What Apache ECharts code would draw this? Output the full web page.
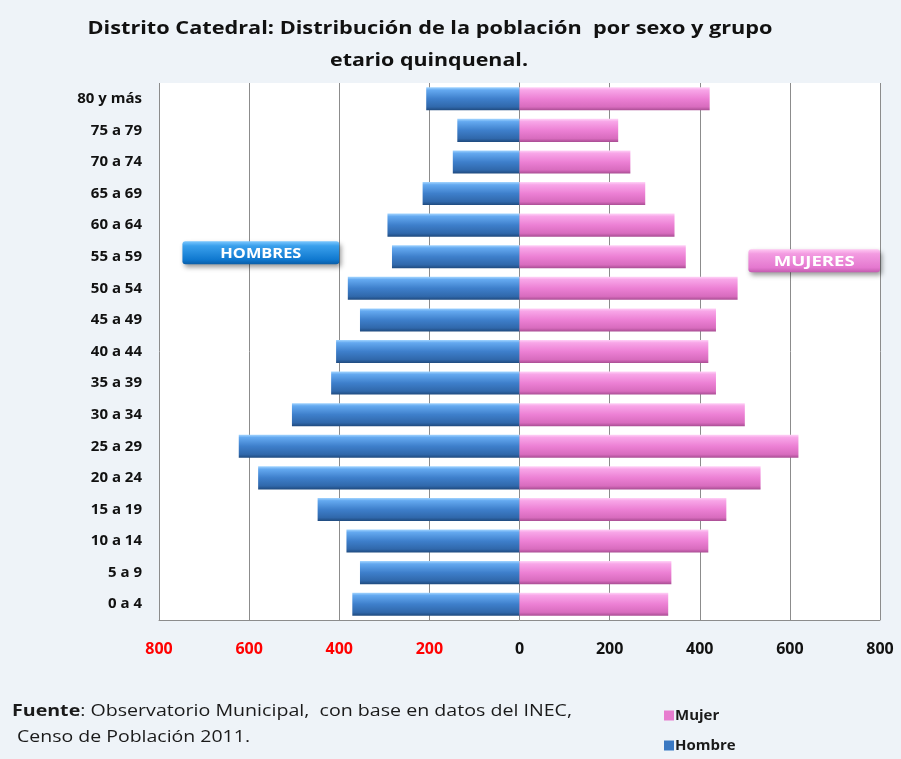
<!DOCTYPE html>
<html>
<head>
<meta charset="utf-8">
<script src="https://cdn.jsdelivr.net/npm/echarts@6/dist/echarts.min.js"></script>
<style>
html,body{margin:0;padding:0;background:#EEF3F8;}
#c{width:901px;height:759px;}
</style>
</head>
<body>
<div id="c"></div>
<script>
const categories = ['0 a 4','5 a 9','10 a 14','15 a 19','20 a 24','25 a 29','30 a 34','35 a 39','40 a 44','45 a 49','50 a 54','55 a 59','60 a 64','65 a 69','70 a 74','75 a 79','80 y más'];
const hombre = [371,354,384,448,580,623,505,418,407,354,381,283,293,215,148,138,207];
const mujer  = [330,337,419,459,535,619,500,436,419,436,484,369,344,279,246,219,422];
const xTicks = {min:-800, max:800, interval:200};
const titleLines = ['Distrito Catedral: Distribución de la población  por sexo y grupo', 'etario quinquenal.'];
const sourceBold = 'Fuente';
const sourceLine1 = ': Observatorio Municipal,  con base en datos del INEC,';
const sourceLine2 = ' Censo de Población 2011.';

const FONT = '"Open Sans", Lato, sans-serif';
const chart = echarts.init(document.getElementById('c'));

// measure text to stretch it horizontally like the reference
const mctx = document.createElement('canvas').getContext('2d');
function textW(txt, size, weight) {
  mctx.font = (weight||'normal') + ' ' + size + 'px ' + FONT;
  return mctx.measureText(txt).width;
}

const blueGrad = new echarts.graphic.LinearGradient(0,0,0,1,[
  {offset:0,color:'#a3d5ff'},{offset:0.12,color:'#64a9f0'},{offset:0.5,color:'#3e7fcb'},
  {offset:0.85,color:'#3068ab'},{offset:1,color:'#1f4a7e'}]);
const pinkGrad = new echarts.graphic.LinearGradient(0,0,0,1,[
  {offset:0,color:'#ffd3f7'},{offset:0.12,color:'#f8a6e8'},{offset:0.5,color:'#ec80d4'},
  {offset:0.85,color:'#d86cbe'},{offset:1,color:'#a94d93'}]);

chart.setOption({
  backgroundColor:'#EEF3F8',
  animation:false,
  textStyle:{fontFamily:FONT},
  legend:{
    data:[{name:'Mujer',itemStyle:{color:'#e77ccf'}},{name:'Hombre',itemStyle:{color:'#3a78c2'}}],
    orient:'vertical', left:659, top:703, itemWidth:10, itemHeight:10, itemGap:15,
    icon:'rect',
    textStyle:{fontFamily:FONT, fontWeight:'bold', fontSize:15, color:'#1a1a1a', padding:[0,0,0,-4]}
  },
  grid:{left:159, right:21, top:83, bottom:139, show:true, backgroundColor:'#ffffff', borderWidth:0},
  xAxis:{
    type:'value', min:xTicks.min, max:xTicks.max, interval:xTicks.interval,
    axisLine:{show:true, onZero:false, lineStyle:{color:'#8c8c8c'}},
    axisTick:{show:false},
    splitLine:{show:true, lineStyle:{color:'#8c8c8c', width:1}},
    axisLabel:{
      margin:21,
      formatter:v => v<0 ? '{neg|'+(-v)+'}' : '{pos|'+v+'}',
      rich:{
        neg:{color:'#ff0000', fontWeight:'bold', fontSize:16, fontFamily:FONT},
        pos:{color:'#111111', fontWeight:'bold', fontSize:16, fontFamily:FONT}
      }
    }
  },
  yAxis:[{
    type:'category', data:categories,
    axisLine:{show:false, onZero:false},
    axisTick:{show:false},
    axisLabel:{margin:17, color:'#111', fontWeight:'bold', fontSize:15, fontFamily:FONT}
  },{
    type:'category', data:categories, position:'left',
    axisLine:{show:true, onZero:true, lineStyle:{color:'#8c8c8c'}},
    axisTick:{show:true, inside:false, length:5, alignWithLabel:true, lineStyle:{color:'#8c8c8c'}},
    axisLabel:{show:false}
  }],
  series:[{
    name:'Hombre', type:'bar', stack:'t', yAxisIndex:0,
    data:hombre.map(v=>-v), barCategoryGap:'27%',
    itemStyle:{color:blueGrad, shadowColor:'rgba(0,0,0,0.35)', shadowBlur:4, shadowOffsetX:2, shadowOffsetY:2}
  },{
    name:'Mujer', type:'bar', stack:'t', yAxisIndex:0,
    data:mujer, barCategoryGap:'27%',
    itemStyle:{color:pinkGrad, shadowColor:'rgba(0,0,0,0.35)', shadowBlur:4, shadowOffsetX:2, shadowOffsetY:2}
  }]
});

function box(x0, x1, cat, dy, label, grad) {
  const p0 = chart.convertToPixel({xAxisIndex:0, yAxisIndex:0}, [x0, cat]);
  const p1 = chart.convertToPixel({xAxisIndex:0, yAxisIndex:0}, [x1, cat]);
  const h = 23;
  const x = p0[0], w = p1[0]-p0[0], y = p0[1]+dy-h/2;
  const sx = 81 / textW(label, 15, 'bold');
  return {
    type:'group', children:[
      {type:'rect', shape:{x:x, y:y, width:w, height:h, r:3},
       style:{fill:grad, shadowColor:'rgba(0,0,0,0.4)', shadowBlur:5, shadowOffsetX:2, shadowOffsetY:3}},
      {type:'text', x:x+w/2, y:y+h/2+1, scaleX:sx,
       style:{text:label, fill:'#ffffff', fontFamily:FONT, fontWeight:'bold', fontSize:15, align:'center', verticalAlign:'middle'}}
    ]
  };
}
const hBoxGrad = new echarts.graphic.LinearGradient(0,0,0,1,[
  {offset:0,color:'#7cc8ff'},{offset:0.2,color:'#3aa0ec'},{offset:0.8,color:'#0f78cf'},{offset:1,color:'#0a5ea8'}]);
const mBoxGrad = new echarts.graphic.LinearGradient(0,0,0,1,[
  {offset:0,color:'#ffc9f3'},{offset:0.2,color:'#f39be1'},{offset:0.8,color:'#e478cf'},{offset:1,color:'#c45cb0'}]);

const tSize = 17;
const t1 = 685 / textW(titleLines[0], tSize, 'bold');
const t2 = 198 / textW(titleLines[1], tSize, 'bold');
const sSize = 16;
const s1 = 560 / (textW(sourceBold, sSize, 'bold') + textW(sourceLine1, sSize));
const s2 = 238 / textW(sourceLine2, sSize);

chart.setOption({graphic:[
  {type:'text', x:430, y:29, scaleX:t1,
   style:{text:titleLines[0], fontFamily:FONT, fontWeight:'bold', fontSize:tSize, fill:'#111',
     align:'center', verticalAlign:'middle'}},
  {type:'text', x:429, y:61, scaleX:t2,
   style:{text:titleLines[1], fontFamily:FONT, fontWeight:'bold', fontSize:tSize, fill:'#111',
     align:'center', verticalAlign:'middle'}},
  {type:'text', x:12, y:711, scaleX:s1,
   style:{text:'{b|'+sourceBold+'}'+sourceLine1, fontFamily:FONT, fontSize:sSize, fill:'#1a1a1a',
     verticalAlign:'middle',
     rich:{b:{fontWeight:'bold', fontSize:sSize, fontFamily:FONT, fill:'#1a1a1a'}}}},
  {type:'text', x:12, y:737, scaleX:s2,
   style:{text:sourceLine2, fontFamily:FONT, fontSize:sSize, fill:'#1a1a1a', verticalAlign:'middle'}},
  box(-748, -400, '55 a 59', -4, 'HOMBRES', hBoxGrad),
  box(508, 800, '55 a 59', 4, 'MUJERES', mBoxGrad)
]});
</script>
</body>
</html>
